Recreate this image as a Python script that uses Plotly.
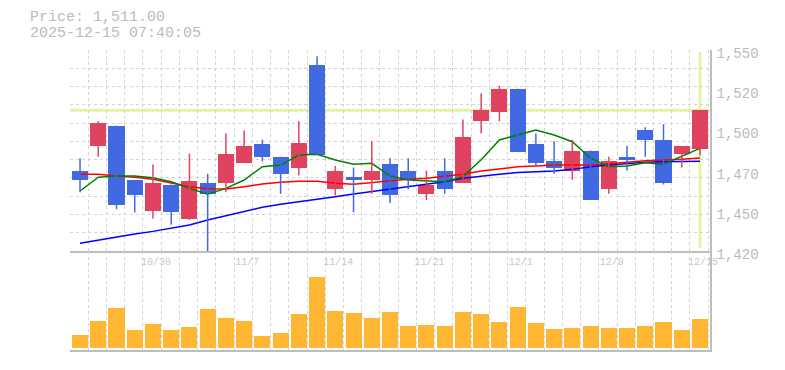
import plotly.graph_objects as go

# ---------------- data ----------------
dates = ["10/24", "10/27", "10/28", "10/29", "10/30", "10/31", "11/4", "11/5", "11/6", "11/7",
         "11/10", "11/11", "11/12", "11/13", "11/14", "11/17", "11/18", "11/19", "11/20", "11/21",
         "11/25", "11/26", "11/27", "11/28", "12/1", "12/2", "12/3", "12/4", "12/5", "12/8",
         "12/9", "12/10", "12/11", "12/12", "12/15"]
opens = [1472, 1488, 1501, 1466, 1446, 1463, 1441, 1464, 1464, 1477,
         1489, 1481, 1474, 1540, 1460, 1468, 1466, 1476, 1472, 1457,
         1472, 1464, 1504, 1510, 1525, 1489, 1478, 1472, 1485, 1460,
         1481, 1498, 1492, 1483, 1486]
highs = [1480, 1504, 1501, 1466, 1476, 1463, 1483, 1470, 1496, 1498,
         1492, 1481, 1504, 1546, 1475, 1474, 1491, 1480, 1480, 1472,
         1480, 1505, 1522, 1527, 1525, 1496, 1491, 1492, 1485, 1481,
         1488, 1500, 1502, 1488, 1511]
lows = [1458, 1481, 1447, 1445, 1441, 1437, 1440, 1420, 1458, 1477,
        1478, 1457, 1469, 1482, 1456, 1445, 1457, 1451, 1460, 1453,
        1457, 1464, 1496, 1504, 1484, 1475, 1470, 1466, 1453, 1457,
        1472, 1481, 1463, 1474, 1482]
closes = [1466, 1503, 1450, 1456, 1464, 1445, 1465, 1457, 1483, 1488,
          1481, 1470, 1490, 1482, 1472, 1466, 1472, 1456, 1466, 1463,
          1460, 1494, 1511, 1525, 1484, 1477, 1474, 1485, 1453, 1478,
          1479, 1492, 1464, 1488, 1511]
volumes = [13, 27, 40, 18, 24, 18, 21, 39, 30, 27,
           12, 15, 34, 71, 37, 35, 30, 36, 22, 23,
           22, 36, 34, 26, 41, 25, 19, 20, 22, 20,
           20, 22, 26, 18, 29]  # thousand shares
ma5 = [1458.8, 1467.7, 1468.5, 1468.5, 1467.4, 1464.8, 1460.5, 1456.7, 1460.5, 1465.9,
       1474.5, 1475.6, 1482.1, 1482.5, 1478.9, 1476.1, 1476.7, 1468.5, 1465.9, 1465.3,
       1464.8, 1468.1, 1479.0, 1491.8, 1495.0, 1498.3, 1495.0, 1490.7, 1480.0, 1474.5,
       1475.0, 1477.1, 1476.1, 1481.0, 1486.4]
ma25 = [1469.6, 1469.6, 1468.5, 1467.7, 1466.4, 1464.2, 1461.6, 1460.3, 1460.1, 1461.6,
        1463.3, 1464.4, 1465.1, 1465.1, 1463.8, 1463.1, 1464.2, 1465.5, 1466.4, 1467.0,
        1468.1, 1469.6, 1471.7, 1473.2, 1474.5, 1475.0, 1475.6, 1475.6, 1475.6, 1476.5,
        1477.6, 1478.4, 1478.9, 1479.3, 1480.2]
ma75 = [1425.0, 1427.1, 1429.3, 1431.0, 1432.7, 1434.7, 1436.8, 1440.0, 1442.8, 1445.4,
        1448.3, 1450.2, 1451.7, 1453.4, 1455.1, 1456.9, 1458.4, 1460.1, 1461.6, 1463.3,
        1464.8, 1467.0, 1468.5, 1469.6, 1470.7, 1471.1, 1471.7, 1472.8, 1474.5, 1475.6,
        1476.7, 1477.4, 1477.8, 1478.0, 1478.0]
price_ticks = [1420, 1446, 1472, 1498, 1524, 1550]
price_tick_text = ["1,420", "1,450", "1,470", "1,500", "1,520", "1,550"]
label_dates = ["10/30", "11/7", "11/14", "11/21", "12/1", "12/8", "12/15"]
header_price = "Price: 1,511.00"
header_time = "2025-12-15 07:40:05"

# ---------------- styling ----------------
UP = "#e0435f"
DOWN = "#4169e1"
VOL = "#ffb733"
GRID = "#d4d4d4"
AXLINE = "#bdbdbd"
TXT = "#bbbbbb"
MONO = "Liberation Mono, DejaVu Sans Mono, monospace"
PRICE_LINE = "#e2f3a6"

n = len(dates)
x = list(range(n))
is_up = [c >= o for o, c in zip(opens, closes)]

fig = go.Figure()

# moving averages (behind candles)
for ma, col in [(ma75, "#0000ff"), (ma25, "#ff0000"), (ma5, "#008000")]:
    fig.add_trace(go.Scatter(x=x, y=ma, mode="lines", line=dict(color=col, width=1.5),
                             xaxis="x", yaxis="y", hoverinfo="skip"))

# wicks
for flag, col in [(True, UP), (False, DOWN)]:
    wx, wy = [], []
    for i in x:
        if is_up[i] == flag:
            wx += [i, i, None]
            wy += [lows[i], highs[i], None]
    fig.add_trace(go.Scatter(x=wx, y=wy, mode="lines", line=dict(color=col, width=1.5),
                             xaxis="x", yaxis="y", hoverinfo="skip"))

# bodies
fig.add_trace(go.Bar(
    x=x,
    y=[abs(c - o) for o, c in zip(opens, closes)],
    base=[min(o, c) for o, c in zip(opens, closes)],
    width=0.88,
    marker=dict(color=[UP if u else DOWN for u in is_up], line=dict(width=0)),
    xaxis="x", yaxis="y", hoverinfo="skip"))

# volume
fig.add_trace(go.Bar(x=x, y=volumes, width=0.88, marker=dict(color=VOL, line=dict(width=0)),
                     xaxis="x2", yaxis="y2", hoverinfo="skip"))

# current price lines
fig.add_shape(type="line", xref="x domain", yref="y", x0=0, x1=1, y0=closes[-1], y1=closes[-1],
              line=dict(color=PRICE_LINE, width=3), layer="below")
fig.add_shape(type="line", xref="x", yref="y domain", x0=n - 1, x1=n - 1, y0=0.015, y1=0.99,
              line=dict(color=PRICE_LINE, width=3), layer="below")

label_idx = [dates.index(d) for d in label_dates]
xr = [-0.55, n - 1 + 0.55]
minor_x = dict(tickmode="linear", tick0=xr[0], dtick=1, showgrid=True, gridcolor=GRID,
               griddash="dot", gridwidth=1, ticks="")

# the page body adds an 8px offset; margins compensate so the plot sits at x 70-710, y 50-350
fig.update_layout(
    width=785, height=370,
    margin=dict(l=62, r=83, t=42, b=28, autoexpand=False),
    paper_bgcolor="white", plot_bgcolor="white",
    showlegend=False, bargap=0,
    xaxis=dict(domain=[0, 1], anchor="y", range=xr, tickmode="array", tickvals=label_idx,
               ticktext=label_dates, showgrid=False, ticks="", zeroline=False,
               ticklabelshift=3,
               tickfont=dict(family=MONO, size=10, color="#c8c8c8"),
               showline=True, linecolor=AXLINE, linewidth=1.5, minor=minor_x),
    xaxis2=dict(domain=[0, 1], anchor="y2", range=xr, matches="x", showticklabels=False,
                showgrid=False, ticks="", zeroline=False, showline=True, linecolor=AXLINE,
                linewidth=1.5, minor=minor_x),
    yaxis=dict(domain=[0.33, 1], anchor="x", side="right", range=[1420, 1550.01],
               tickmode="array", tickvals=price_ticks, ticktext=price_tick_text,
               showgrid=False, ticks="", zeroline=False, ticklabelstandoff=2,
               ticklabelshift=3,
               tickfont=dict(family=MONO, size=14, color=TXT),
               minor=dict(tickmode="linear", tick0=price_ticks[0],
                          dtick=(price_ticks[-1] - price_ticks[0]) / 11, showgrid=True,
                          gridcolor=GRID, griddash="dot", gridwidth=1, ticks=""),
               showline=True, linecolor=AXLINE, linewidth=1.5),
    yaxis2=dict(domain=[0, 0.33], anchor="x2", side="right", range=[-2, 97],
                showgrid=False, showticklabels=False, ticks="", zeroline=False,
                showline=True, linecolor=AXLINE, linewidth=1.5),
    annotations=[
        dict(text=header_price, xref="paper", yref="paper", x=-42 / 640, y=(300 + 42 - 10) / 300,
             xanchor="left", yanchor="middle", showarrow=False,
             font=dict(family=MONO, size=15, color=TXT)),
        dict(text=header_time, xref="paper", yref="paper", x=-42 / 640, y=(300 + 42 - 25) / 300,
             xanchor="left", yanchor="middle", showarrow=False,
             font=dict(family=MONO, size=15, color=TXT)),
    ],
)

fig.write_html("out.html")
